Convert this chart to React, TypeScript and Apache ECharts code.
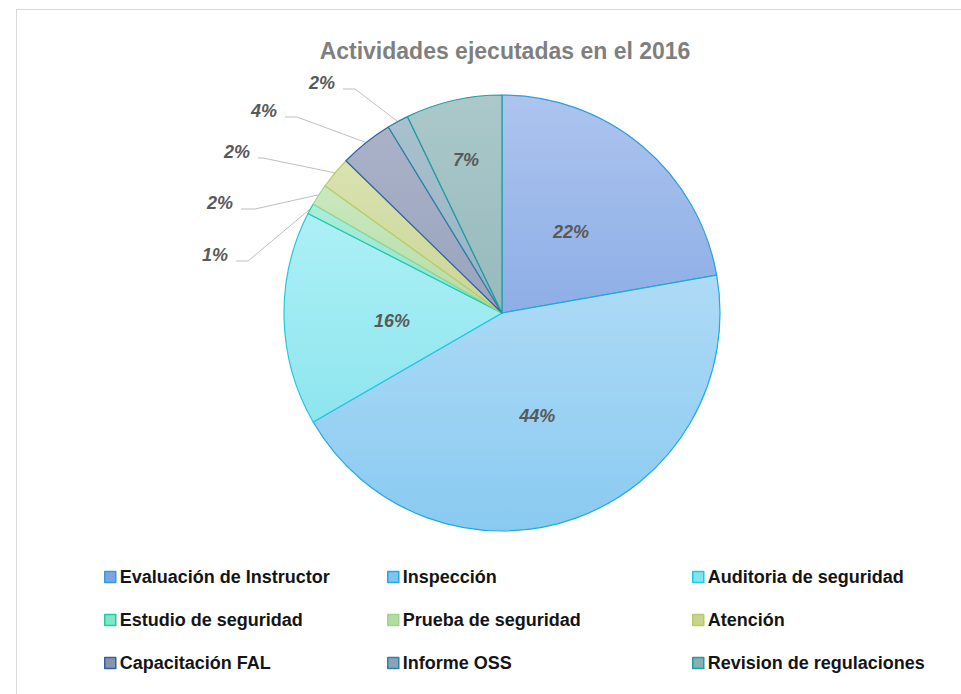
import React, { useEffect, useRef } from "react";
import * as echarts from "echarts";

const titleText = "Actividades ejecutadas en el 2016";
const categories = [
  "Evaluación de Instructor",
  "Inspección",
  "Auditoria de seguridad",
  "Estudio de seguridad",
  "Prueba de seguridad",
  "Atención",
  "Capacitación FAL",
  "Informe OSS",
  "Revision de regulaciones",
];
const values = [28, 56, 20, 1, 2, 3, 5, 2, 9];
const topColors = ["#adc4ef", "#aedbf6", "#adf0f6", "#aaeedb", "#cae8bf", "#dae2b1", "#aab2c8", "#a9c1ce", "#abc8ca"];
const bottomColors = ["#8daee6", "#8acaf1", "#8ee5ee", "#8fe3cc", "#b5dda6", "#cbd596", "#98a3bd", "#95b2c2", "#96babd"];
const borderColors = ["#2c9fd9", "#1eaadf", "#22c9dc", "#22c9a3", "#a2d48f", "#bacb66", "#30609f", "#2e80a8", "#1f9d9f"];
const legendColors = ["#7fa2e0", "#7fc4ef", "#7fe4ef", "#7fe6c8", "#b2dca0", "#c8d48c", "#8a93ad", "#86a6b8", "#86b0b2"];
const insideLabel = [true, true, true, false, false, false, false, false, true];

// placement of the outside (leader-line) labels: label right edge, label centre y, elbow x
const outsideLabelPlacement: Record<number, [number, number, number]> = {
  3: [228, 255, 248],
  4: [233, 203, 255],
  5: [250, 152, 263],
  6: [277, 111, 297],
  7: [335, 83, 355],
};
// nudges of inside labels
const insideLabelShift: Record<number, [number, number]> = {
  0: [-3, 5],
  1: [-3, -2],
  2: [2, 5],
  8: [-11, -44],
};

export default function App() {
  const ref = useRef<HTMLDivElement>(null);
  useEffect(() => {
    if (!ref.current) return;
    const chart = echarts.init(ref.current, undefined, { renderer: "svg" });
    const total = values.reduce((a, b) => a + b, 0);
    const data = categories.map((name, i) => ({
      name,
      value: values[i],
      itemStyle: {
        color: new echarts.graphic.LinearGradient(0, 0, 0, 1, [
          { offset: 0, color: topColors[i] },
          { offset: 1, color: bottomColors[i] },
        ]),
        borderColor: borderColors[i],
        borderWidth: 1.2,
      },
      label: insideLabel[i] ? { position: "inside" } : { position: "outside" },
      labelLine: { show: !insideLabel[i] },
    }));
    const legendCols = [
      [0, 3, 6],
      [1, 4, 7],
      [2, 5, 8],
    ];
    const legendLefts = [104, 387, 692];
    chart.setOption({
      animation: false,
      backgroundColor: "#ffffff",
      title: {
        text: titleText,
        left: 500,
        textAlign: "center",
        top: 34,
        textStyle: {
          fontFamily: "Liberation Sans",
          fontSize: 23,
          fontWeight: "bold",
          color: "#7f7f7f",
        },
      },
      graphic: [
        { type: "line", shape: { x1: 16, y1: 9.5, x2: 961, y2: 9.5 }, style: { stroke: "#d9d9d9", lineWidth: 1 } },
        { type: "line", shape: { x1: 16.5, y1: 9, x2: 16.5, y2: 694 }, style: { stroke: "#d9d9d9", lineWidth: 1 } },
      ],
      legend: legendCols.map((col, k) => ({
        orient: "vertical",
        left: legendLefts[k],
        top: 568,
        padding: 0,
        itemGap: 25,
        itemWidth: 11,
        itemHeight: 11,
        icon: "rect",
        selectedMode: false,
        textStyle: {
          fontFamily: "Liberation Sans",
          fontSize: 18,
          lineHeight: 18,
          fontWeight: "bold",
          color: "#151515",
          padding: [0, 0, 0, -1],
        },
        data: col.map((i) => ({
          name: categories[i],
          itemStyle: { color: legendColors[i], borderColor: borderColors[i], borderWidth: 1.5 },
        })),
      })),
      series: [
        {
          type: "pie",
          center: [502, 313],
          radius: [0, 218],
          startAngle: 90,
          clockwise: true,
          avoidLabelOverlap: true,
          data,
          label: {
            formatter: (p: any) => Math.round((p.value / total) * 100) + "%",
            fontFamily: "Liberation Sans",
            fontSize: 18,
            fontWeight: "bold",
            fontStyle: "italic",
            color: "#595959",
          },
          labelLine: {
            length: 22,
            length2: 12,
            lineStyle: { color: "#bfbfbf", width: 1 },
          },
          labelLayout: (params: any) => {
            const shift = insideLabelShift[params.dataIndex];
            if (shift) return { dx: shift[0], dy: shift[1] };
            const pl = outsideLabelPlacement[params.dataIndex];
            if (!pl || !params.labelLinePoints) return {};
            const start = params.labelLinePoints[0];
            const lineY = pl[1] + 6;
            return {
              x: pl[0],
              y: pl[1],
              align: "right",
              verticalAlign: "middle",
              labelLinePoints: [start, [pl[2], lineY], [pl[0] + 8, lineY]],
            };
          },
          emphasis: { disabled: true },
        },
      ],
    });
    return () => chart.dispose();
  }, []);
  return <div ref={ref} style={{ position: "fixed", left: 0, top: 0, width: 961, height: 694 }} />;
}
